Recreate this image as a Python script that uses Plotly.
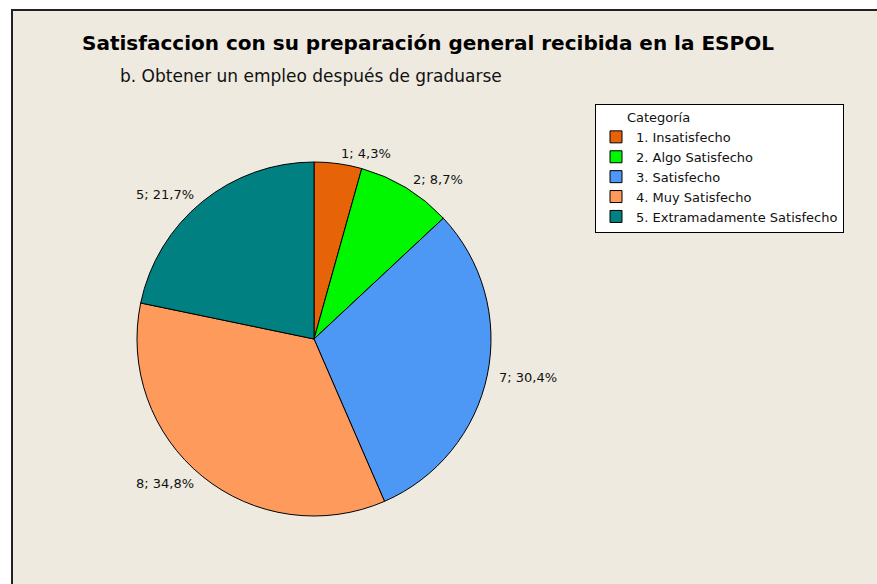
import math
import plotly.graph_objects as go

categories = ["1. Insatisfecho", "2. Algo Satisfecho", "3. Satisfecho",
              "4. Muy Satisfecho", "5. Extramadamente Satisfecho"]
counts = [1, 2, 7, 8, 5]
colors = ["#E66407", "#00F700", "#4D97F5", "#FE9A5C", "#008080"]

W, H = 877, 584
BG = "#EEEAE0"
FONT = "DejaVu Sans"

# pie geometry (pixels)
cx, cy, r = 314, 339, 177

def px(x):
    return x / W

def py(y):
    return 1 - y / H

total = sum(counts)
pct_labels = [f"{c}; {c / total * 100:.1f}%".replace(".", ",") for c in counts]

fig = go.Figure(go.Pie(
    labels=categories,
    values=counts,
    marker=dict(colors=colors, line=dict(color="black", width=1)),
    sort=False,
    direction="clockwise",
    rotation=0,
    textinfo="none",
    hoverinfo="label+value+percent",
    domain=dict(x=[px(cx - r), px(cx + r)], y=[py(cy + r), py(cy - r)]),
))

annotations = []
cum = 0
for c, lab in zip(counts, pct_labels):
    mid = (cum + c / 2) / total * 2 * math.pi
    cum += c
    lr = r * 1.056
    ax = cx + lr * math.sin(mid)
    ay = cy - lr * math.cos(mid)
    annotations.append(dict(
        x=px(ax), y=py(ay), xref="paper", yref="paper",
        text=lab, showarrow=False,
        xanchor="left" if math.sin(mid) >= 0 else "right",
        yanchor="middle",
        font=dict(family=FONT, size=13, color="#111111"),
    ))

annotations.append(dict(
    x=px(428), y=py(43), xref="paper", yref="paper",
    text="<b>Satisfaccion con su preparación general recibida en la ESPOL</b>",
    showarrow=False, xanchor="center", yanchor="middle",
    font=dict(family=FONT, size=20, color="black"),
))
annotations.append(dict(
    x=px(118), y=py(76), xref="paper", yref="paper",
    text="b. Obtener un empleo después de graduarse",
    showarrow=False, xanchor="left", yanchor="middle",
    font=dict(family=FONT, size=17, color="#111111"),
))

fig.update_layout(
    width=W, height=H,
    margin=dict(l=0, r=0, t=0, b=0),
    paper_bgcolor="white",
    plot_bgcolor="white",
    shapes=[dict(
        type="rect", xref="paper", yref="paper",
        x0=px(12), x1=1.02, y0=-0.02, y1=py(10),
        fillcolor=BG, line=dict(color="#222222", width=2), layer="below",
    )],
    annotations=annotations,
    showlegend=True,
    legend=dict(
        x=px(595), y=py(104), xanchor="left", yanchor="top",
        bgcolor="white", bordercolor="black", borderwidth=1,
        font=dict(family=FONT, size=13, color="#111111"),
        title=dict(text="       Categoría", side="top",
                   font=dict(family=FONT, size=13, color="#111111")),
        traceorder="normal",
    ),
)

fig.write_html("out.html", config={"displayModeBar": False},
               post_script="document.body.style.margin='0';")
